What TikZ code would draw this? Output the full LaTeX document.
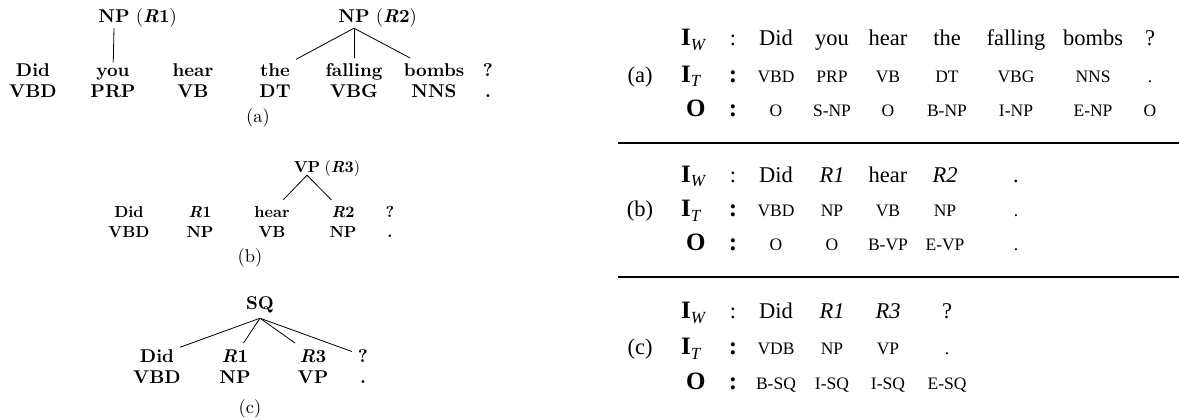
\documentclass[tikz,border=0pt]{standalone}
\usepackage{fontspec}
\setmainfont{lmroman10-regular}[Extension=.otf, BoldFont=lmroman10-bold, ItalicFont=lmroman10-italic, BoldItalicFont=lmroman10-bolditalic]
\newfontfamily\tm{Liberation Serif}
\usetikzlibrary{calc}
\newcommand{\RR}[1]{{\bfseries\itshape R}\textbf{#1}}
\begin{document}
\begin{tikzpicture}[x=1pt,y=-1pt,
  ta/.style={font=\fontsize{18.5}{21}\selectfont\bfseries, anchor=base, inner sep=6pt},
  tb/.style={font=\fontsize{16}{18}\selectfont\bfseries, anchor=base, inner sep=6pt},
  parnode/.style={inner xsep=0pt, text depth=0pt},
  labnode/.style={anchor=base west, inner sep=0pt},
  captext/.style={font=\fontsize{18.5}{20}\selectfont, anchor=base, inner sep=0pt},
  conn/.style={line width=0.8pt},
  rw/.style={font=\tm\fontsize{22.5}{25}\selectfont, anchor=base, inner sep=0pt},
  rt/.style={font=\tm\fontsize{17.5}{20}\selectfont, anchor=base, inner sep=0pt},
  rl/.style={font=\tm\fontsize{25}{28}\selectfont\bfseries, anchor=base west, inner sep=0pt},
  rc/.style={font=\tm\fontsize{22.5}{25}\selectfont, anchor=base, inner sep=0pt},
  rcb/.style={font=\tm\fontsize{25}{28}\selectfont\bfseries, anchor=base, inner sep=0pt},
  hrule/.style={line width=1.1pt}
]
\useasboundingbox (0,0) rectangle (1179,420);

% ---------------- tree (a) ----------------
\node[ta, parnode, inner ysep=5pt] (np1) at (114,23) {NP};
\node[ta, labnode, font=\fontsize{18.5}{21}\selectfont] (np1l) at ($(np1.base east)+(6,0)$) {(\RR{1})};
\node[ta, parnode, inner ysep=5pt] (np2) at (354,23) {NP};
\node[ta, labnode, font=\fontsize{18.5}{21}\selectfont] (np2l) at ($(np2.base east)+(6,0)$) {(\RR{2})};
\foreach \x/\w/\t [count=\i] in {33/Did/VBD,113/you/PRP,193/hear/VB,275/the/DT,354/falling/VBG,434/bombs/NNS,488/?/.}{
  \node[ta] (aw\i) at (\x,77) {\w};
  \node[ta] (at\i) at (\x,97) {\t};
}
\draw[conn] (np1.south) -- (aw2);
\draw[conn] (np2.south) -- (aw4);
\draw[conn] (np2.south) -- (aw5);
\draw[conn] (np2.south) -- (aw6);
\node[captext] (capa) at (258,122) {(a)};

% ---------------- tree (b) ----------------
\node[tb, parnode, inner ysep=3pt] (vp) at (307,172) {VP};
\node[tb, labnode, font=\fontsize{16}{18}\selectfont] (vpl) at ($(vp.base east)+(4,0)$) {(\RR{3})};
\foreach \x/\w/\t [count=\i] in {129/Did/VBD,200/\RR{1}/NP,272/hear/VB,343/\RR{2}/NP,390/?/.}{
  \node[tb] (bw\i) at (\x,217) {\w};
  \node[tb] (bt\i) at (\x,237) {\t};
}
\draw[conn] (vp.south) -- (bw3);
\draw[conn] (vp.south) -- (bw4);
\node[captext] (capb) at (250,262) {(b)};

% ---------------- tree (c) ----------------
\node[ta, parnode, inner ysep=9pt] (sq) at (260,309) {SQ};
\foreach \x/\w/\t [count=\i] in {157/Did/VBD,235/\RR{1}/NP,313/\RR{3}/VP,363/?/.}{
  \node[ta] (cw\i) at (\x,362) {\w};
  \node[ta] (ct\i) at (\x,383) {\t};
}
\foreach \i in {1,...,4}{\draw[conn] (sq.south) -- (cw\i);}
\node[captext] (capc) at (250,413) {(c)};

% ---------------- right table ----------------
\newcommand{\IW}{\textbf{I}{\fontsize{17}{17}\selectfont\mdseries\itshape\raisebox{-5pt}{W}}}
\newcommand{\IT}{\textbf{I}{\fontsize{17}{17}\selectfont\mdseries\itshape\raisebox{-5pt}{T}}}

% block (a)
\node[rl] (aIW) at (681,46) {\IW};
\node[rl] (aIT) at (681,82) {\IT};
\node[rl] (aO)  at (686,117) {O};
\node[rc]  (ac1) at (733,46) {:};
\node[rcb] (ac2) at (733,82) {:};
\node[rcb] (ac3) at (733,117) {:};
\node[rw] (alab) at (640,82) {(a)};
\foreach \x/\w/\t/\o [count=\i] in {776/Did/VBD/O,832/you/PRP/S-NP,888/hear/VB/O,947/the/DT/B-NP,1016/falling/VBG/I-NP,1093/bombs/NNS/E-NP,1150/?/./O}{
  \node[rw] (raw\i) at (\x,46) {\w};
  \node[rt] (rat\i) at (\x,82) {\t};
  \node[rt] (rao\i) at (\x,117) {\o};
}
\coordinate (l1a) at (618,143);
\coordinate (l1b) at (1179,143);
\draw[hrule] (l1a) -- (l1b);

% block (b)
\node[rl] (bIW) at (681,182) {\IW};
\node[rl] (bIT) at (681,216) {\IT};
\node[rl] (bO)  at (686,250) {O};
\node[rc]  (bc1) at (733,182) {:};
\node[rcb] (bc2) at (733,216) {:};
\node[rcb] (bc3) at (733,250) {:};
\node[rw] (blab) at (640,216) {(b)};
\foreach \x/\w/\t/\o [count=\i] in {776/Did/VBD/O,832/{\itshape R1}/NP/O,888/hear/VB/B-VP,945/{\itshape R2}/NP/E-VP,1016/./././}{
  \node[rw] (rbw\i) at (\x,182) {\w};
  \node[rt] (rbt\i) at (\x,216) {\t};
  \node[rt] (rbo\i) at (\x,250) {\o};
}
\coordinate (l2a) at (618,277);
\coordinate (l2b) at (1179,277);
\draw[hrule] (l2a) -- (l2b);

% block (c)
\node[rl] (cIW) at (681,318) {\IW};
\node[rl] (cIT) at (681,354) {\IT};
\node[rl] (cO)  at (686,389) {O};
\node[rc]  (cc1) at (733,318) {:};
\node[rcb] (cc2) at (733,354) {:};
\node[rcb] (cc3) at (733,389) {:};
\node[rw] (clab) at (640,354) {(c)};
\foreach \x/\w/\t/\o [count=\i] in {776/Did/VDB/B-SQ,832/{\itshape R1}/NP/I-SQ,888/{\itshape R3}/VP/I-SQ,947/?/./E-SQ}{
  \node[rw] (rcw\i) at (\x,318) {\w};
  \node[rt] (rct\i) at (\x,354) {\t};
  \node[rt] (rco\i) at (\x,389) {\o};
}
\end{tikzpicture}
\end{document}
